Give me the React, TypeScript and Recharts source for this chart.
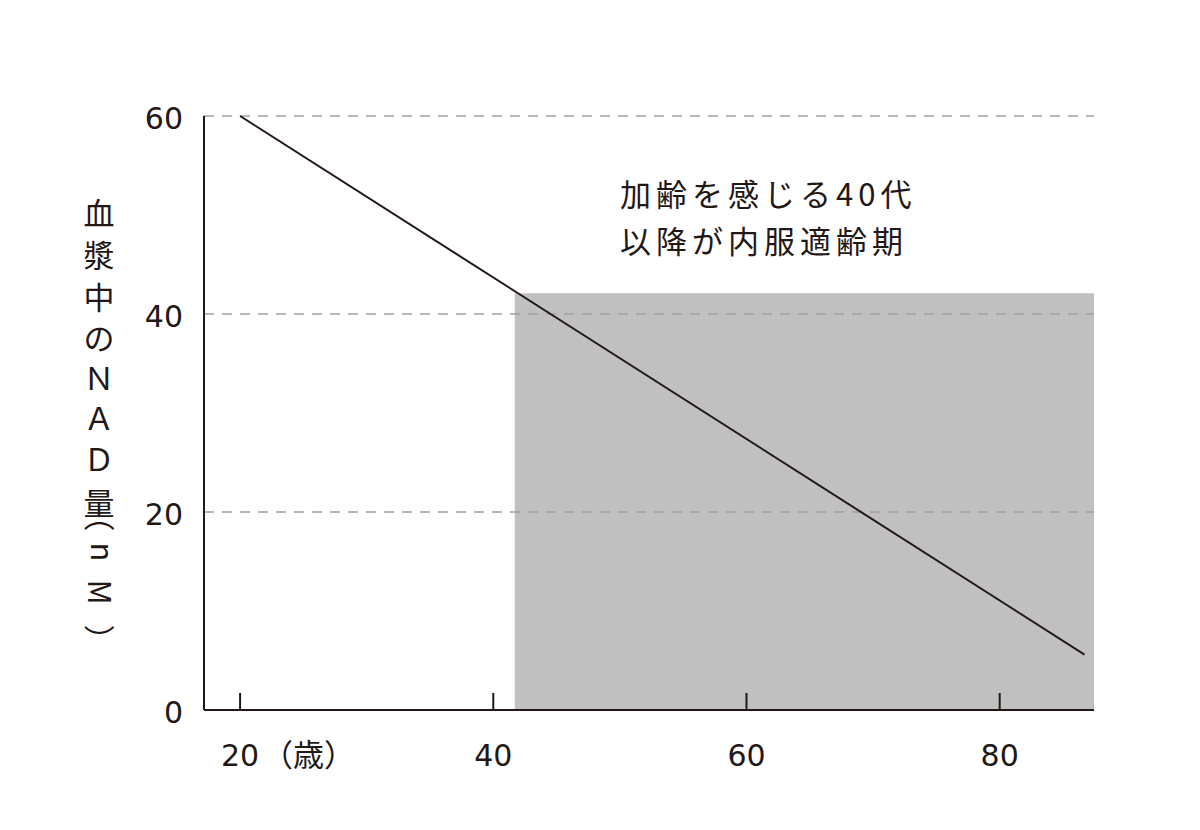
import React from 'react';
import { LineChart, Line, XAxis, YAxis, ReferenceArea, ReferenceLine } from 'recharts';

// age (years) vs plasma NAD (nM)
const ages = [20, 86.7];
const nadLevels = [60, 5.6];

const xTicks = [20, 40, 60, 80];
const yTicks = [0, 20, 40, 60];
const gridValues = [20, 40, 60];
const xDomain = [17.15, 87.45];
const ageUnit = '（歳）';

// shaded "40s and later" range
const shadeAges = [41.7, 87.45];
const shadeNad = [0, 42.1];

// vertical axis title, one glyph per step (last four are turned sideways)
const yLabelGlyphs = ['血', '漿', '中', 'の', 'Ｎ', 'Ａ', 'Ｄ', '量', '（', 'n', 'M', '）'];
const yLabelSideways = [false, false, false, false, false, false, false, false, true, true, true, true];
const noteLines = ['加齢を感じる40代', '以降が内服適齢期'];

const data = ages.map((age, i) => ({ age, nad: nadLevels[i] }));

const INK = '#231815';
const NUM_FONT = "'DejaVu Sans', sans-serif";
const JP_FONT = "'Noto Sans CJK JP', sans-serif";

// glyph centres for the vertical title
const LABEL_X = 99;
const labelCentres = [214, 256, 298, 339, 379, 419, 460, 504, 516, 552, 592, 640];
const labelShift = ['0.36em', '0.36em', '0.36em', '0.36em', '0.36em', '0.36em', '0.36em', '0.36em', '0.36em', '0.27em', '0.36em', '0.36em'];

const AgeTick = (props: any) => {
    const { x, y, payload } = props;
    return (
        <g>
            <text x={x} y={y} textAnchor="middle" fontFamily={NUM_FONT} fontSize={30} fill={INK}>
                {payload.value}
            </text>
            {payload.value === xTicks[0] && (
                <text x={x + 22} y={y} textAnchor="start" fontFamily={JP_FONT} fontSize={31} fill={INK}>
                    {ageUnit}
                </text>
            )}
        </g>
    );
};

const NadTick = (props: any) => {
    const { x, y, payload } = props;
    return (
        <text x={x} y={y} dy={13} textAnchor="end" fontFamily={NUM_FONT} fontSize={30} fill={INK}>
            {payload.value}
        </text>
    );
};

export default function App() {
    return (
        <div style={{ position: 'absolute', left: 0, top: 0, width: 1200, height: 830, background: '#fff' }}>
            <LineChart
                width={1200}
                height={830}
                data={data}
                margin={{ top: 116, right: 106, bottom: 40, left: 144 }}
            >
                <XAxis
                    dataKey="age"
                    type="number"
                    domain={xDomain}
                    ticks={xTicks}
                    allowDataOverflow
                    height={80}
                    axisLine={{ stroke: INK, strokeWidth: 2 }}
                    tickLine={{ stroke: INK, strokeWidth: 2 }}
                    tickSize={-17}
                    tickMargin={73}
                    tick={<AgeTick />}
                />
                <YAxis
                    type="number"
                    domain={[0, 60]}
                    ticks={yTicks}
                    width={60}
                    axisLine={{ stroke: INK, strokeWidth: 2 }}
                    tickLine={false}
                    tickSize={0}
                    tickMargin={21}
                    tick={<NadTick />}
                />
                <ReferenceArea
                    x1={shadeAges[0]}
                    x2={shadeAges[1]}
                    y1={shadeNad[0]}
                    y2={shadeNad[1]}
                    fill="#c0c0c0"
                    fillOpacity={1}
                    stroke="none"
                />
                {gridValues.map((v) => (
                    <ReferenceLine key={v} y={v} stroke="#9fa0a0" strokeWidth={1.5} strokeDasharray="10 8" />
                ))}
                <Line
                    type="linear"
                    dataKey="nad"
                    stroke={INK}
                    strokeWidth={2}
                    dot={false}
                    activeDot={false}
                    isAnimationActive={false}
                />
            </LineChart>

            {/* vertical axis title */}
            <svg
                width={140}
                height={830}
                style={{ position: 'absolute', left: 0, top: 0, pointerEvents: 'none' }}
            >
                {yLabelGlyphs.map((ch, i) => (
                    <g
                        key={i}
                        transform={`translate(${LABEL_X} ${labelCentres[i]})${yLabelSideways[i] ? ' rotate(90)' : ''}`}
                    >
                        <text
                            x={0}
                            y={0}
                            dy={labelShift[i]}
                            textAnchor="middle"
                            fontFamily={JP_FONT}
                            fontSize={31}
                            fill={INK}
                        >
                            {ch}
                        </text>
                    </g>
                ))}
            </svg>

            {/* annotation */}
            <div
                style={{
                    position: 'absolute',
                    left: 620,
                    top: 169,
                    fontFamily: JP_FONT,
                    fontSize: 31,
                    letterSpacing: 5,
                    lineHeight: '47px',
                    color: INK,
                }}
            >
                {noteLines.map((t) => (
                    <div key={t}>{t}</div>
                ))}
            </div>
        </div>
    );
}
